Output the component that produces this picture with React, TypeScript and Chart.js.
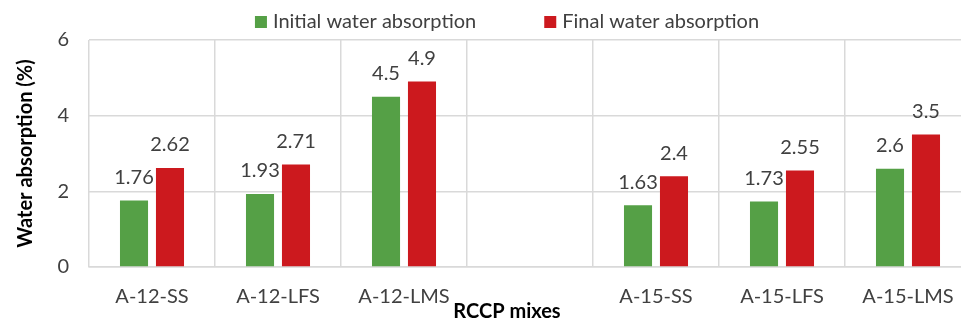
import React, { useEffect, useRef } from "react";
import { Chart, registerables } from "chart.js";

Chart.register(...registerables);

const categories = ["A-12-SS", "A-12-LFS", "A-12-LMS", "", "A-15-SS", "A-15-LFS", "A-15-LMS"];
const initialAbsorption = [1.76, 1.93, 4.5, null, 1.63, 1.73, 2.6];
const finalAbsorption = [2.62, 2.71, 4.9, null, 2.4, 2.55, 3.5];
const seriesNames = ["Initial water absorption", "Final water absorption"];
const seriesColors = ["#55A046", "#CC191E"];
const yTicks = [0, 2, 4, 6];
const xTitle = "RCCP mixes";
const yTitle = "Water absorption (%)";

const FONT = "Lato, 'Open Sans', sans-serif";
const TEXT = "#404040";
const FS = 20;

const customPlugin = {
  id: "custom",
  afterDatasetsDraw(chart: any) {
    const ctx = chart.ctx;
    ctx.save();
    ctx.font = `${FS}px ${FONT}`;
    ctx.fillStyle = TEXT;
    ctx.textAlign = "center";
    ctx.textBaseline = "middle";
    chart.data.datasets.forEach((ds: any, di: number) => {
      const meta = chart.getDatasetMeta(di);
      meta.data.forEach((bar: any, i: number) => {
        const v = ds.data[i];
        if (v === null || v === undefined) return;
        ctx.fillText(String(v), bar.x, bar.y - 23);
      });
    });
    ctx.restore();
  },
  afterDraw(chart: any) {
    const ctx = chart.ctx;
    const cx = chart.width / 2;
    ctx.save();
    ctx.font = `${FS}px ${FONT}`;
    const box = 12;
    const gapText = 6;
    const gapItems = 68;
    const widths = seriesNames.map((n) => box + gapText + ctx.measureText(n).width);
    const total = widths.reduce((a, b) => a + b, 0) + gapItems * (widths.length - 1);
    let x = cx - total / 2;
    const ly = 22;
    ctx.textBaseline = "middle";
    ctx.textAlign = "left";
    seriesNames.forEach((n, i) => {
      ctx.fillStyle = seriesColors[i];
      ctx.fillRect(x, ly - box / 2, box, box);
      ctx.fillStyle = TEXT;
      ctx.fillText(n, x + box + gapText, ly);
      x += widths[i] + gapItems;
    });
    ctx.font = `bold ${FS}px ${FONT}`;
    ctx.fillStyle = "#000000";
    ctx.textAlign = "center";
    ctx.fillText(xTitle, cx, 312);
    ctx.restore();
  },
};

export default function App() {
  const ref = useRef<HTMLCanvasElement>(null);
  useEffect(() => {
    if (!ref.current) return;
    Chart.defaults.font.family = FONT;
    const chart = new Chart(ref.current, {
      type: "bar",
      data: {
        labels: categories,
        datasets: [
          {
            label: seriesNames[0],
            data: initialAbsorption,
            backgroundColor: seriesColors[0],
            categoryPercentage: 0.571,
            barPercentage: 0.78,
          },
          {
            label: seriesNames[1],
            data: finalAbsorption,
            backgroundColor: seriesColors[1],
            categoryPercentage: 0.571,
            barPercentage: 0.78,
          },
        ],
      },
      options: {
        responsive: false,
        animation: false,
        layout: { padding: { top: 40, right: 43, bottom: 0, left: 0 } },
        plugins: {
          legend: { display: false },
          tooltip: { enabled: false },
        },
        scales: {
          x: {
            offset: true,
            grid: { offset: true, color: "#d9d9d9", lineWidth: 1.5, drawTicks: false },
            border: { color: "#d9d9d9", width: 1.5 },
            ticks: { color: TEXT, font: { size: FS }, padding: 18, maxRotation: 0 },
            afterFit: (scale: any) => {
              scale.height = 55;
            },
          },
          y: {
            min: 0,
            max: 6,
            afterBuildTicks: (axis: any) => {
              axis.ticks = yTicks.map((v) => ({ value: v }));
            },
            grid: { color: "#d9d9d9", lineWidth: 1.5, drawTicks: false },
            border: { display: false },
            ticks: { color: TEXT, font: { size: FS }, padding: 20 },
            title: {
              display: true,
              text: yTitle,
              color: "#000000",
              font: { size: FS, weight: "bold" },
              padding: { top: 14, bottom: 0 },
            },
            afterFit: (scale: any) => {
              scale.width = 89;
            },
          },
        },
      },
      plugins: [customPlugin],
    });
    return () => chart.destroy();
  }, []);
  return (
    <div style={{ position: "fixed", left: 0, top: 0, width: 961, height: 322, overflow: "hidden", background: "#fff" }}>
      <canvas ref={ref} width={1014} height={322} style={{ width: 1014, height: 322, display: "block" }} />
    </div>
  );
}
